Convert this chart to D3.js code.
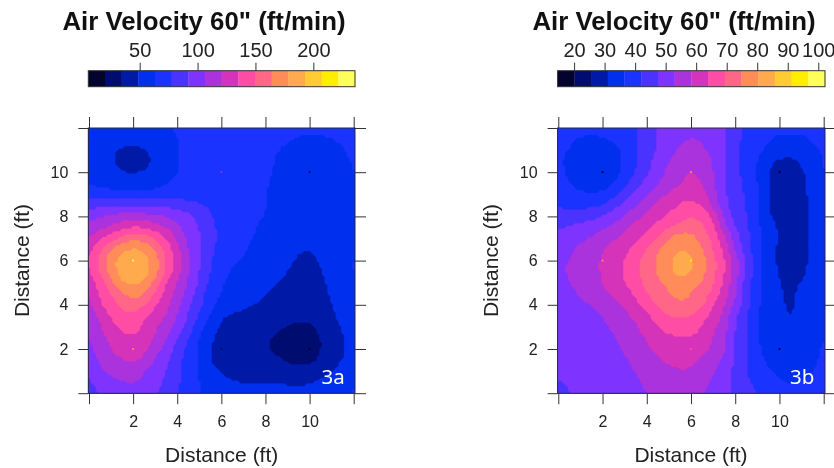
<!DOCTYPE html>
<html><head><meta charset="utf-8">
<script src="https://cdn.jsdelivr.net/npm/d3@7/dist/d3.min.js"></script>
<style>html,body{margin:0;padding:0;background:#fff}svg{display:block;filter:blur(0.35px)}text{font-family:"Liberation Sans",Arial,sans-serif}</style>
</head><body><svg id="c" width="834" height="468"></svg>
<script>
// Colour key: sixteen bands
const bandColors=["#03032e","#000c70","#0019a6","#0030ee","#1a33ff","#4a33ff","#7f33ff","#aa33dd","#d633bb","#ff4da6","#ff6688","#ff8c59","#ffaa4d","#ffcc33","#ffee00","#ffff59"];
const titleText='Air Velocity 60" (ft/min)';
const axisLabel="Distance (ft)";
const axisTicks=[0,2,4,6,8,10,12];
const labelledTicks=[2,4,6,8,10];
const keyRangeA=[5.6,236];
const keyRangeB=[14.6,102.2];
const keyTicksA=[50,100,150,200];
const keyTicksB=[20,30,40,50,60,70,80,90,100];
// Surfaces every 0.5 ft, rows from 12 ft down to 0 ft,
// expressed as a position on the colour key (0 = bottom of key, 16 = top of key).
const surfaceA=[
[3.9,3.85,3.8,3.75,3.7,3.75,3.8,3.9,4.1,4.2,4.3,4.35,4.4,4.4,4.4,4.35,4.3,4.25,4.2,4.15,4.1,4.15,4.2,4.3,4.4],
[3.85,3.7,3.5,3.3,3.2,3.3,3.5,3.75,3.98,4.2,4.35,4.4,4.4,4.4,4.35,4.3,4.25,4.15,4.05,3.95,3.92,3.92,3.97,4.1,4.3],
[3.75,3.45,3.15,2.9,2.75,2.95,3.3,3.7,3.97,4.2,4.35,4.4,4.4,4.4,4.3,4.2,4.12,4.02,3.9,3.85,3.8,3.8,3.85,3.93,4.2],
[3.65,3.3,3.05,2.7,2.55,2.75,3.1,3.6,3.98,4.2,4.35,4.45,4.45,4.45,4.3,4.2,4.1,3.98,3.85,3.75,3.7,3.7,3.75,3.85,4.05],
[3.75,3.5,3.25,3.0,2.9,3.05,3.3,3.7,3.98,4.2,4.35,4.45,4.5,4.45,4.3,4.2,4.08,3.95,3.8,3.7,3.65,3.65,3.7,3.8,4.02],
[3.97,3.8,3.65,3.55,3.5,3.55,3.7,3.98,4.15,4.3,4.4,4.45,4.45,4.4,4.3,4.2,4.05,3.9,3.75,3.65,3.6,3.6,3.65,3.78,4.0],
[4.4,4.35,4.3,4.25,4.25,4.25,4.3,4.35,4.4,4.45,4.45,4.4,4.35,4.3,4.25,4.15,4.03,3.85,3.7,3.6,3.55,3.55,3.6,3.75,3.97],
[5.7,5.75,5.8,5.85,5.85,5.85,5.8,5.8,5.7,5.5,5.2,4.8,4.4,4.3,4.25,4.15,4.03,3.85,3.65,3.55,3.5,3.5,3.55,3.7,3.95],
[6.5,6.95,7.3,7.45,7.5,7.4,7.25,6.95,6.6,6.2,5.75,5.2,4.5,4.35,4.25,4.1,3.98,3.8,3.6,3.5,3.45,3.45,3.5,3.65,3.95],
[7.5,7.75,8.05,8.7,9.05,8.95,8.45,8.05,7.15,6.5,6.0,5.3,4.7,4.45,4.25,4.05,3.85,3.65,3.5,3.4,3.4,3.4,3.45,3.6,3.95],
[7.85,8.85,9.6,10.3,10.8,10.6,10,9.05,7.9,6.8,6.05,5.3,4.75,4.4,4.2,3.95,3.75,3.55,3.4,3.3,3.3,3.3,3.4,3.55,3.95],
[8.7,9.9,11.1,11.8,12.25,11.8,11,9.65,8.3,7,6.1,5.2,4.7,4.35,4.1,3.85,3.65,3.45,3.25,3.05,3.02,3.2,3.4,3.6,3.95],
[8.9,10.2,11.6,12.5,12.8,12.45,11.5,10,8.75,7.2,6,5.1,4.5,4.2,3.9,3.7,3.5,3.3,3.15,2.9,2.8,3.1,3.4,3.7,4.05],
[8.8,10.1,11.5,12.5,12.75,12.4,11.5,9.85,8.35,7,6,5,4.35,3.9,3.65,3.45,3.25,3.1,3.02,2.75,2.6,2.95,3.3,3.65,4.05],
[8.3,9.45,10.7,12.05,12.2,12.05,10.65,9,8,6.9,5.9,4.7,4.1,3.7,3.5,3.3,3.2,3.08,2.85,2.65,2.5,2.85,3.2,3.6,4.05],
[7.9,9.2,10.05,10.85,11.55,11,10,8.6,7.65,6.55,5.5,4.45,3.95,3.6,3.4,3.25,3.05,2.8,2.6,2.45,2.4,2.7,3.1,3.55,4.05],
[7.7,8.9,9.55,10.2,10.5,10.15,9,8.3,7.4,6.2,5.3,4.3,3.7,3.35,3.12,2.98,2.8,2.6,2.45,2.35,2.3,2.6,3.0,3.45,4.0],
[7.5,8.2,9.2,9.7,9.9,9.1,8.6,8,7,5.9,4.9,3.95,3.0,2.9,2.85,2.75,2.6,2.4,2.25,2.2,2.15,2.4,2.8,3.3,3.9],
[7.3,7.9,8.6,9.15,9.45,8.8,8.1,7.4,6.7,5.6,4.4,3.3,2.9,2.7,2.55,2.4,2.25,2.1,1.98,1.85,1.9,2.2,2.7,3.05,3.7],
[6.95,7.6,8.3,8.75,8.95,8.4,8.05,7.05,6.1,4.95,4,3.1,2.8,2.55,2.4,2.25,2.1,1.95,1.75,1.6,1.6,2,2.5,2.9,3.55],
[6.75,7.4,8.05,8.45,8.7,8.25,7.4,6.55,5.6,4.7,3.85,2.9,2.7,2.5,2.4,2.25,2.1,1.75,1.5,1.4,1.4,2,2.45,2.85,3.4],
[6.55,7.15,7.6,7.95,8.2,7.85,6.95,6.25,5.3,4.65,3.95,2.9,2.7,2.55,2.45,2.35,2.35,2.25,1.85,1.75,1.7,2.15,2.55,3,3.5],
[6.0,6.9,7.3,7.55,7.7,7,6.5,6,5.2,4.6,3.95,3.3,2.95,2.8,2.7,2.6,2.55,2.5,2.4,2.4,2.5,2.7,3,3.4,3.8],
[5.9,6.4,6.7,6.95,7.05,6.8,6.3,5.85,5.15,4.55,4,3.55,3.2,3.02,2.95,2.95,2.95,2.97,2.9,2.9,2.95,3.1,3.35,3.65,4],
[5.5,6.1,6.3,6.45,6.5,6.4,6.1,5.6,5.1,4.5,4.03,3.8,3.55,3.4,3.35,3.35,3.35,3.3,3.25,3.2,3.25,3.4,3.6,3.8,4.05]
];
const surfaceB=[
[4.4,4.35,4.3,4.3,4.35,4.5,4.7,4.95,5.45,6.05,6.3,6.5,6.6,6.55,6.4,6.05,5.3,4.8,4.55,4.35,4.2,4.2,4.2,4.3,4.4],
[4.35,4.15,3.93,3.85,3.9,4.1,4.45,4.9,5.5,6.1,6.45,6.8,7.05,6.9,6.5,6.05,5.3,4.7,4.3,4.05,3.85,3.8,3.85,4.1,4.35],
[4.25,3.95,3.65,3.45,3.5,3.75,4.2,4.9,5.55,6.1,6.6,7.2,7.55,7.15,6.7,6,5.25,4.7,4.25,3.85,3.5,3.35,3.5,3.75,4.15],
[4.15,3.8,3.4,3.2,3.25,3.6,4.1,4.95,5.65,6.35,7.05,7.45,7.75,7.45,7.02,6,5.2,4.6,4,3.15,2.85,2.75,3.1,3.6,4.1],
[4.2,3.85,3.45,3.2,3.3,3.7,4.2,5.05,5.85,6.6,7.25,7.7,8.05,7.6,7.05,6,5.3,4.6,4.03,3,2.7,2.65,2.85,3.45,4.05],
[4.45,3.95,3.65,3.5,3.55,3.95,4.75,5.55,6.3,7,7.35,7.9,8.4,8.05,7.2,6,5.4,4.75,4.05,3,2.6,2.55,2.7,3.4,4],
[4.75,4.4,4.2,4.0,4.2,4.65,5.4,6.2,6.95,7.55,8.2,8.55,8.8,8.35,7.45,6.1,5.5,4.85,4.05,3,2.55,2.5,2.65,3.35,3.95],
[4.95,4.75,4.7,4.8,5,5.65,6.3,6.95,7.6,8.2,8.65,9.1,9.25,9.0,7.65,6.3,5.5,5,4.1,3.05,2.5,2.45,2.65,3.3,3.95],
[5.35,5.4,5.5,5.7,6.05,6.55,7.05,7.7,8.2,8.7,9.15,9.55,10.0,9.5,9,6.75,5.7,5.05,4.15,3.15,2.5,2.4,2.6,3.3,3.95],
[5.95,6.1,6.3,6.55,6.8,7.2,7.75,8.45,8.65,9.35,9.9,10.4,10.7,10.3,9.3,7.35,6,5.25,4.2,3.5,2.85,2.45,2.6,3.3,3.95],
[6.25,6.45,6.8,7.15,7.55,7.9,8.25,8.75,9.3,10,11.2,11.6,11.35,10.6,9.7,8.3,6.4,5.35,4.25,3.5,2.85,2.45,2.6,3.25,3.95],
[6.35,6.85,7.25,7.6,7.95,8.35,8.75,9.35,10.05,11,11.4,12.0,11.8,11.15,10,8.7,6.9,5.55,4.3,3.5,2.8,2.45,2.55,3.25,3.95],
[6.75,7.05,7.4,7.75,8.1,8.55,9,9.7,10.4,11.15,11.75,12.55,12.25,11.35,10.35,9.1,7.55,5.85,4.45,3.5,2.8,2.45,2.6,3.3,3.95],
[6.85,7.1,7.4,7.7,8.1,8.6,9.1,9.8,10.45,11.1,11.65,12.5,12.1,11.3,10.35,9.1,7.6,5.75,4.45,3.5,2.85,2.55,2.7,3.4,3.95],
[6.6,7,7.3,7.65,8,8.5,8.95,9.6,10.3,10.85,11.3,11.6,11.3,11,10.1,8.75,7.25,5.5,4.35,3.55,3.05,2.7,3.05,3.55,3.95],
[6.2,6.75,7.15,7.5,7.9,8.15,8.6,9.2,10,10.55,10.9,11.35,11,10.5,9.75,8.5,7.15,5.5,4.25,3.55,3.1,2.8,3.25,3.65,3.95],
[6.15,6.3,6.75,7.05,7.3,7.65,8.15,8.7,9.35,10.2,10.6,10.8,10.75,10.3,8.95,8.15,6.7,5.35,4.1,3.6,3.2,2.8,3.35,3.7,3.95],
[6.12,6.25,6.45,6.75,7.03,7.4,7.75,8.25,8.8,9.4,10.02,10.1,10.05,9.4,8.55,7.8,6.15,5.25,4.05,3.6,3.25,2.9,3.4,3.75,3.95],
[6.1,6.2,6.35,6.55,6.8,7.15,7.45,7.85,8.4,9,9.4,9.55,9.4,8.9,8.2,7.45,5.9,5.2,4.05,3.65,3.4,3.25,3.5,3.8,4],
[6.08,6.15,6.3,6.45,6.65,6.9,7.3,7.7,8.05,8.55,8.8,8.95,9,8.7,8,7.3,5.9,5.2,4.05,3.7,3.5,3.45,3.6,3.85,4],
[6.06,6.1,6.2,6.35,6.5,6.7,7.1,7.5,7.85,8.25,8.5,8.6,8.6,8.3,7.8,7.2,5.85,5.2,4.05,3.75,3.6,3.55,3.7,3.9,4.05],
[6.04,6.08,6.15,6.25,6.4,6.6,6.9,7.25,7.55,7.9,8.15,8.25,8.2,7.9,7.3,6.85,5.8,5.15,4.3,3.8,3.65,3.6,3.7,3.85,4.15],
[6.02,6.05,6.1,6.2,6.3,6.45,6.65,7.05,7.35,7.65,7.85,7.95,7.95,7.6,7.1,6.5,5.75,5.05,4.55,4.1,3.85,3.75,3.8,3.95,4.3],
[6.02,6.1,6.2,6.3,6.35,6.45,6.6,6.85,7.2,7.35,7.5,7.55,7.5,7.25,6.9,6.3,5.75,5.15,4.75,4.35,4,3.95,4,4.2,4.4],
[5.6,6,6.15,6.25,6.35,6.45,6.6,6.8,6.95,7.1,7.2,7.25,7.2,7.05,6.75,6.25,5.75,5.3,5,4.7,4.4,4.35,4.35,4.4,4.5]
];
// Measuring points shown as tiny dots (x ft, y ft, ft/min)
const pointXA=[2,2,6,10,10,6];
const pointYA=[6,2,10,10,2,2];
const pointVA=[232,165,105,25,10,22];
const pointXB=[2,10,10,6,2,6,6];
const pointYB=[10,10,2,6,6,2,10];
const pointVB=[15,15,15,95,75,68,76];

// Drawing resolution: the surface is painted as small blocks, resampled from the readings with a cubic kernel.
function kernel(t){
  t=Math.abs(t);const B=0.75,C=0.125;
  if(t<1)return ((12-9*B-6*C)*t*t*t+(-18+12*B+6*C)*t*t+(6-2*B))/6;
  if(t<2)return ((-B-6*C)*t*t*t+(6*B+30*C)*t*t+(-12*B-48*C)*t+(8*B+24*C))/6;
  return 0;
}
function resample(grid,factor){
  const rows=grid.length,cols=grid[0].length;
  const R=(rows-1)*factor+1,C=(cols-1)*factor+1,out=new Array(R*C);
  for(let j=0;j<R;j++){const gy=j/factor,y0=Math.floor(gy);
    for(let i=0;i<C;i++){const gx=i/factor,x0=Math.floor(gx);let s=0,w=0;
      for(let b=y0-1;b<=y0+2;b++){const wy=kernel(gy-b),rb=Math.min(rows-1,Math.max(0,b));
        for(let a=x0-1;a<=x0+2;a++){const wt=wy*kernel(gx-a),ra=Math.min(cols-1,Math.max(0,a));
          s+=wt*grid[rb][ra];w+=wt;}}
      out[j*C+i]=s/w;}}
  return {values:out,cols:C,rows:R};
}

const svg=d3.select("#c");
function panel(o){
  const x=d3.scaleLinear([0,12],[o.x0,o.x1]);
  const y=d3.scaleLinear([0,12],[393.2,128]);
  const fx0=o.x0-0.7, fx1=o.x1+1.3;
  const n=bandColors.length;
  const bandToValue=d3.scaleLinear([0,n],o.keyRange);
  const fine=resample(o.surface,4);
  const values=fine.values.map(bandToValue);
  const cols=fine.cols, rows=fine.rows;
  const thresholds=d3.range(1,n).map(bandToValue);
  const colour=d3.scaleQuantize(o.keyRange,bandColors);
  const g=svg.append("g");
  const id="clip"+o.name;
  g.append("clipPath").attr("id",id).append("rect").attr("x",fx0).attr("y",128).attr("width",fx1-fx0).attr("height",265.3);
  const plot=g.append("g").attr("clip-path",`url(#${id})`);
  plot.append("rect").attr("x",fx0).attr("y",128).attr("width",fx1-fx0).attr("height",265.3).attr("fill",bandColors[0]);
  const stepX=12/(cols-1), stepY=12/(rows-1);
  const path=d3.geoPath(d3.geoTransform({point(px,py){
    this.stream.point(x((px-0.5)*stepX),y(12-(py-0.5)*stepY));
  }}));
  const cont=d3.contours().size([cols,rows]).smooth(false).thresholds(thresholds)(values);
  plot.selectAll("path").data(cont).join("path").attr("d",path)
    .attr("fill",(d,i)=>bandColors[i+1]).attr("stroke",(d,i)=>bandColors[i+1]).attr("stroke-width",0.3);
  plot.selectAll("circle").data(o.pv).join("circle")
    .attr("cx",(d,i)=>x(o.px[i])).attr("cy",(d,i)=>y(o.py[i])).attr("r",1.1).attr("fill",d=>colour(d));
  // frame
  g.append("rect").attr("x",fx0).attr("y",128).attr("width",fx1-fx0).attr("height",265.3).attr("fill","none").attr("stroke","#2a2a40").attr("stroke-width",1);
  // axes
  const style=a=>{a.select(".domain").remove();a.selectAll("line").attr("stroke","#333");a.selectAll("text").attr("fill","#222").attr("font-size",16).attr("font-family",'"Liberation Sans",Arial,sans-serif');};
  const fmt=d=>labelledTicks.includes(d)?d:"";
  g.append("g").attr("transform","translate(0,393.2)").call(d3.axisBottom(x).tickValues(axisTicks).tickFormat(fmt).tickSize(11).tickPadding(11)).call(style);
  g.append("g").attr("transform","translate(0,128)").call(d3.axisTop(x).tickValues(axisTicks).tickFormat("").tickSize(11)).call(style);
  g.append("g").attr("transform",`translate(${fx0},0)`).call(d3.axisLeft(y).tickValues(axisTicks).tickFormat(fmt).tickSize(10).tickPadding(10)).call(style);
  g.append("g").attr("transform",`translate(${fx1},0)`).call(d3.axisRight(y).tickValues(axisTicks).tickFormat("").tickSize(11)).call(style);
  // axis titles
  g.append("text").attr("x",o.xTitle).attr("y",462).attr("text-anchor","middle").attr("font-size",21).attr("fill","#222").text(axisLabel);
  g.append("text").attr("transform",`translate(${o.yTitle},260.5) rotate(-90)`).attr("text-anchor","middle").attr("font-size",21).attr("fill","#222").text(axisLabel);
  // title
  g.append("text").attr("x",o.titleX).attr("y",30).attr("text-anchor","middle").attr("font-size",25.8).attr("font-weight","bold").attr("fill","#111").text(titleText);
  // colour key
  const kx=d3.scaleLinear(o.keyRange,[fx0,fx1]);
  g.selectAll("rect.key").data(bandColors).join("rect").attr("class","key")
    .attr("x",(d,i)=>kx(bandToValue(i))).attr("y",70.7).attr("height",16)
    .attr("width",(d,i)=>kx(bandToValue(i+1))-kx(bandToValue(i))+0.3).attr("fill",d=>d);
  g.append("rect").attr("x",fx0).attr("y",70.7).attr("width",fx1-fx0).attr("height",16).attr("fill","none").attr("stroke","#333").attr("stroke-width",1);
  g.append("g").attr("transform","translate(0,70.7)").call(d3.axisTop(kx).tickValues(o.keyTicks).tickFormat(d3.format("d")).tickSize(8).tickPadding(6))
    .call(a=>{a.select(".domain").remove();a.selectAll("line").attr("stroke","#333");a.selectAll("text").attr("fill","#222").attr("font-size",20).attr("font-family",'"Liberation Sans",Arial,sans-serif');});
  // panel tag
  g.append("text").attr("x",o.tagX).attr("y",384).attr("fill","#fff").attr("font-size",20.5).style("font-family",'"Noto Sans","Open Sans",sans-serif').text(o.tag);
}
panel({name:"a",x0:89,x1:353.7,surface:surfaceA,keyRange:keyRangeA,keyTicks:keyTicksA,px:pointXA,py:pointYA,pv:pointVA,xTitle:221.7,yTitle:29,titleX:204,tagX:321.5,tag:"3a"});
panel({name:"b",x0:558.3,x1:823.7,surface:surfaceB,keyRange:keyRangeB,keyTicks:keyTicksB,px:pointXB,py:pointYB,pv:pointVB,xTitle:691,yTitle:497.5,titleX:674,tagX:790,tag:"3b"});
</script></body></html>
